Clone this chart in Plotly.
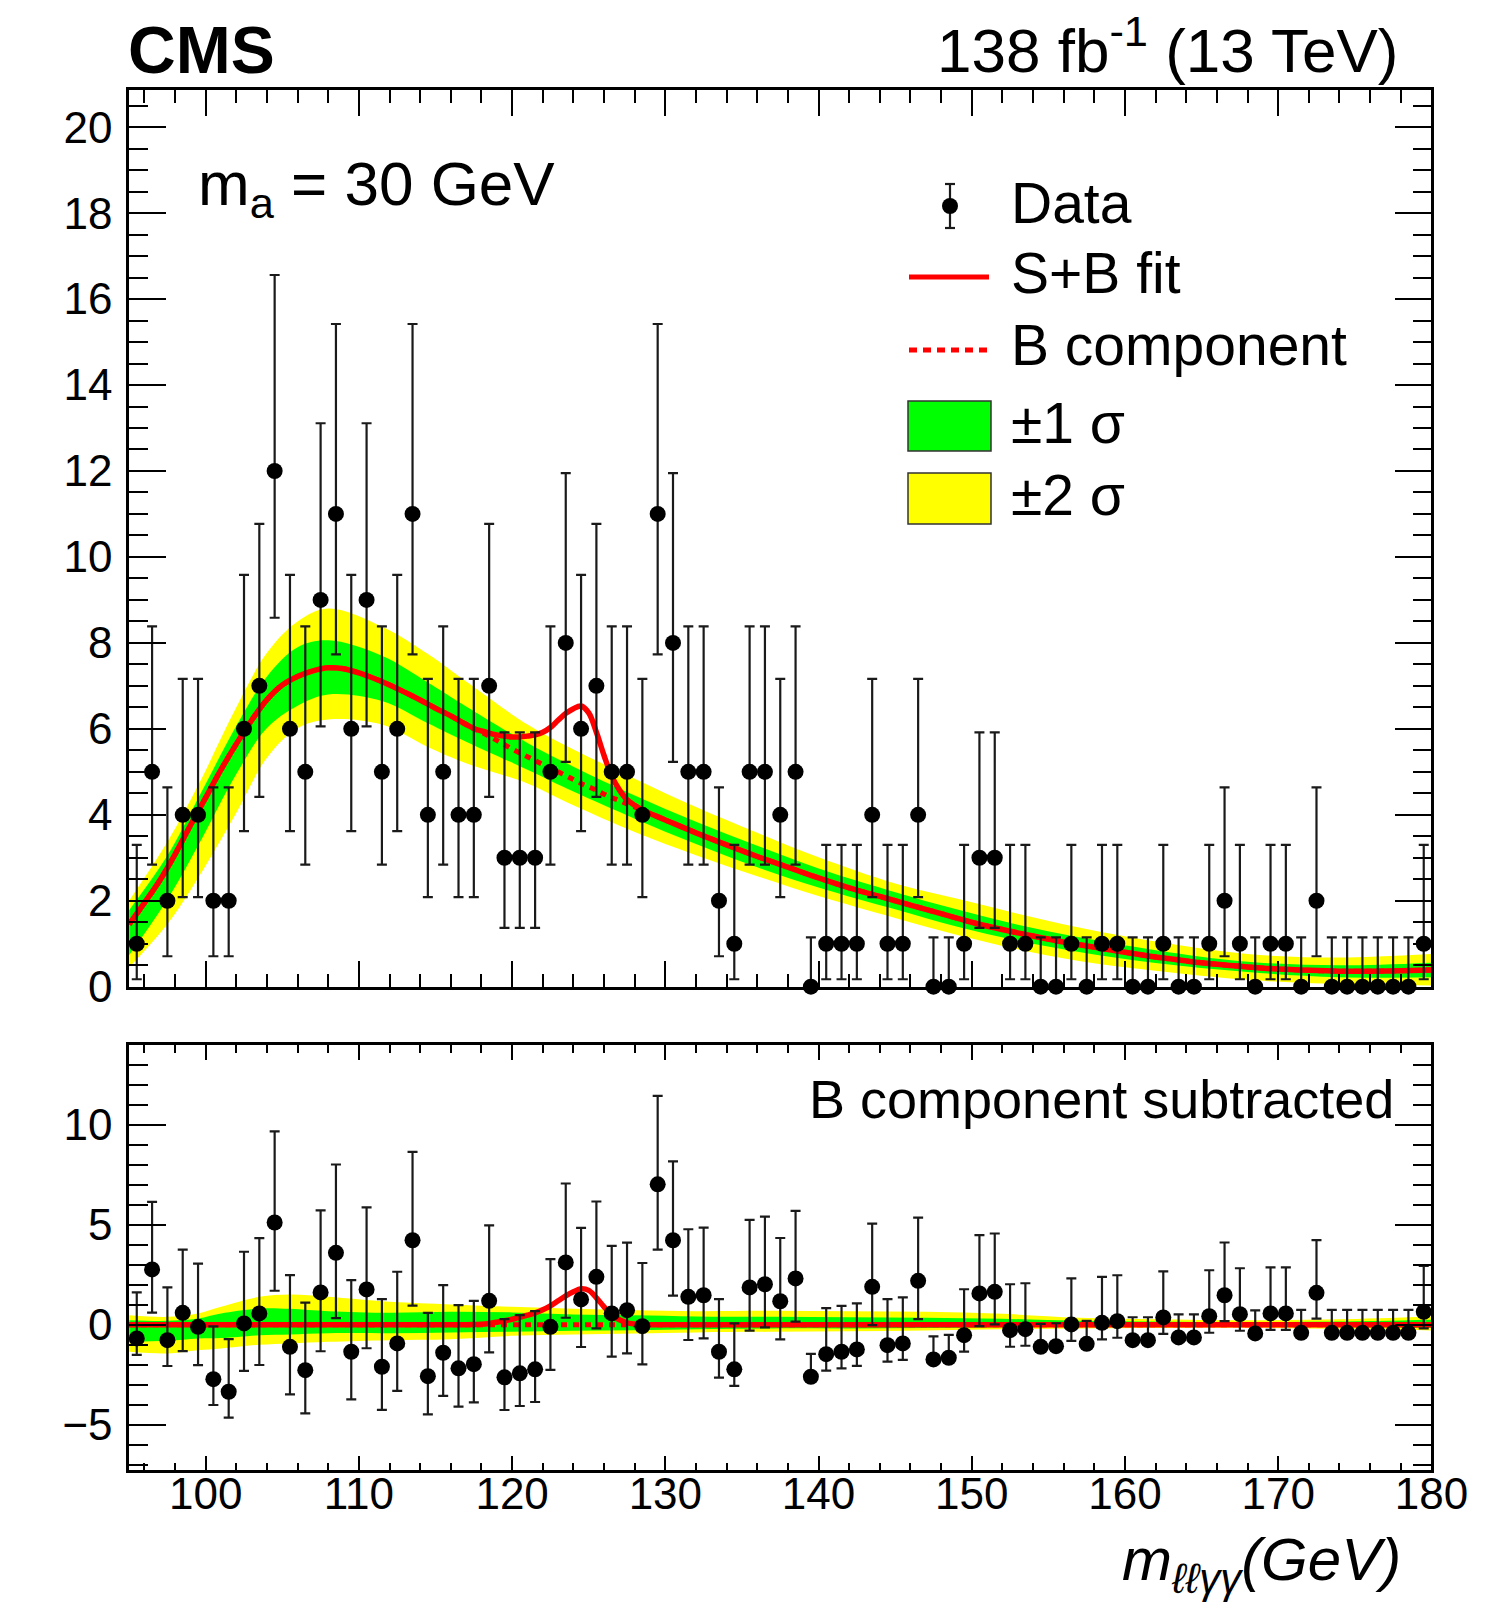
import numpy as np
import plotly.graph_objects as go

W, H = 1501, 1606
FONT = "Liberation Sans, Arial, Helvetica, sans-serif"
RED = "#FF0000"
GREEN = "#00FF00"
YELLOW = "#FFFF00"

# ---------------------------------------------------------------- data
# event counts per 1 GeV bin of m(llgg), 95-180 GeV
bin_centers = np.arange(95.5, 180.0, 1.0)
counts = [
    1, 5, 2, 4, 4, 2, 2, 6, 7, 12,          # 95.5 - 104.5
    6, 5, 9, 11, 6, 9, 5, 6, 11, 4,         # 105.5 - 114.5
    5, 4, 4, 7, 3, 3, 3, 5, 8, 6,           # 115.5 - 124.5
    7, 5, 5, 4, 11, 8, 5, 5, 2, 1,          # 125.5 - 134.5
    5, 5, 4, 5, 0, 1, 1, 1, 4, 1,           # 135.5 - 144.5
    1, 4, 0, 0, 1, 3, 3, 1, 1, 0,           # 145.5 - 154.5
    0, 1, 0, 1, 1, 0, 0, 1, 0, 0,           # 155.5 - 164.5
    1, 2, 1, 0, 1, 1, 0, 2, 0, 0,           # 165.5 - 174.5
    0, 0, 0, 0, 1,                          # 175.5 - 179.5
]

# data minus background component, per bin
residuals = [
    -0.68, 2.77, -0.77, 0.60, -0.10, -2.72, -3.35, 0.07, 0.57, 5.12,
    -1.10, -2.27, 1.62, 3.60, -1.35, 1.77, -2.10, -0.93, 4.23, -2.57,
    -1.40, -2.18, -1.97, 1.20, -2.63, -2.43, -2.23, -0.10, 3.12, 1.27,
    2.40, 0.57, 0.73, -0.07, 7.03, 4.23, 1.40, 1.48, -1.35, -2.23,
    1.87, 2.03, 1.18, 2.32, -2.60, -1.47, -1.35, -1.23, 1.90, -1.02,
    -0.93, 2.20, -1.73, -1.65, -0.52, 1.57, 1.65, -0.27, -0.22, -1.10,
    -1.07, 0.02, -0.95, 0.10, 0.18, -0.77, -0.77, 0.37, -0.63, -0.63,
    0.43, 1.48, 0.53, -0.43, 0.57, 0.57, -0.40, 1.60, -0.40, -0.40,
    -0.40, -0.40, -0.40, -0.40, 0.65,
]

# 68% Poisson interval bounds for n = 0 .. 12 observed events
poisson_lo = [0.0, 0.173, 0.708, 1.367, 2.086, 2.840, 3.620, 4.419, 5.232, 6.057, 6.891, 7.734, 8.585]
poisson_hi = [1.148, 3.300, 4.638, 5.918, 7.163, 8.382, 9.584, 10.77, 11.95, 13.11, 14.27, 15.42, 16.56]

# fitted model evaluated on a mass grid
fit_mass = [
    95, 96, 97, 98, 99, 100, 101, 102, 103, 104, 105, 106, 107, 108, 109, 110,
    111, 112, 113, 114, 115, 116, 117, 117.5, 118, 118.5, 119, 119.5, 120, 120.5,
    121, 121.5, 122, 122.5, 123, 123.5, 124, 124.5, 125, 125.5, 126, 126.5, 127,
    127.5, 128, 128.5, 129, 130, 132, 134, 136, 138, 140, 142, 144, 146, 148, 150,
    152, 154, 156, 158, 160, 162, 164, 166, 168, 170, 172, 174, 176, 178, 180,
]
bkg_fit = [
    1.45, 1.95, 2.47, 3.08, 3.75, 4.40, 5.05, 5.65, 6.20, 6.68, 7.02, 7.22, 7.35, 7.42, 7.40, 7.30,
    7.17, 7.02, 6.85, 6.67, 6.48, 6.30, 6.10, 6.00, 5.92, 5.83, 5.73, 5.63, 5.53, 5.44,
    5.35, 5.26, 5.17, 5.08, 5.00, 4.91, 4.82, 4.73, 4.65, 4.57, 4.48, 4.40, 4.33,
    4.25, 4.18, 4.10, 4.03, 3.88, 3.58, 3.30, 3.03, 2.78, 2.53, 2.30, 2.10, 1.90, 1.70, 1.50,
    1.33, 1.18, 1.04, 0.92, 0.80, 0.69, 0.60, 0.52, 0.46, 0.41, 0.38, 0.36, 0.36, 0.37, 0.39,
]
sig_fit = [
    0, 0, 0, 0, 0, 0, 0, 0, 0, 0, 0, 0, 0, 0, 0, 0,
    0, 0, 0, 0, 0, 0, 0.0, 0.01, 0.03, 0.07, 0.13, 0.20, 0.28, 0.37,
    0.48, 0.60, 0.75, 0.95, 1.20, 1.45, 1.65, 1.80, 1.72, 1.35, 0.90, 0.50, 0.25,
    0.10, 0.04, 0.01, 0, 0, 0, 0, 0, 0, 0, 0, 0, 0, 0, 0,
    0, 0, 0, 0, 0, 0, 0, 0, 0, 0, 0, 0, 0, 0, 0,
]

# uncertainty bands of the background component (upper panel)
band_mass = [95, 97.5, 99.5, 102, 104, 106, 108, 111.5, 114.5, 117, 121, 124,
             128, 132, 136, 140, 145, 149, 153, 157, 162, 168, 174, 180]
band2_hi = [2.00, 3.37, 4.68, 6.50, 7.77, 8.50, 8.80, 8.38, 7.74, 7.10, 6.10, 5.52,
            4.84, 4.18, 3.58, 3.01, 2.40, 2.05, 1.70, 1.38, 1.05, 0.76, 0.68, 0.76]
band1_hi = [1.78, 3.05, 4.38, 6.07, 7.22, 7.90, 8.06, 7.70, 7.08, 6.52, 5.67, 5.12,
            4.45, 3.84, 3.28, 2.75, 2.20, 1.80, 1.44, 1.15, 0.85, 0.58, 0.50, 0.56]
band1_lo = [0.73, 2.03, 3.28, 4.95, 6.02, 6.54, 6.80, 6.65, 6.13, 5.70, 5.05, 4.54,
            3.91, 3.32, 2.78, 2.31, 1.80, 1.40, 1.07, 0.81, 0.55, 0.34, 0.22, 0.22]
band2_lo = [0.45, 1.46, 2.53, 4.05, 5.33, 6.02, 6.22, 6.10, 5.58, 5.20, 4.73, 4.22,
            3.60, 3.06, 2.57, 2.11, 1.60, 1.21, 0.87, 0.60, 0.37, 0.16, 0.06, 0.03]

# uncertainty bands after background subtraction (lower panel)
sub_band_mass = [95, 97.5, 99.5, 101, 103.5, 105.5, 108, 112, 116, 120, 124,
                 128, 132, 137, 142, 147, 152, 157, 162, 168, 174, 180]
sub_band2_hi = [0.48, 0.40, 0.57, 0.90, 1.40, 1.52, 1.40, 1.15, 1.02, 0.90, 0.80,
                0.73, 0.68, 0.70, 0.68, 0.65, 0.55, 0.35, 0.28, 0.23, 0.28, 0.42]
sub_band1_hi = [0.23, 0.20, 0.32, 0.57, 0.82, 0.80, 0.68, 0.60, 0.65, 0.62, 0.52,
                0.48, 0.42, 0.40, 0.38, 0.35, 0.30, 0.20, 0.16, 0.13, 0.16, 0.25]
sub_band1_lo = [-0.85, -0.80, -0.68, -0.66, -0.52, -0.48, -0.42, -0.42, -0.38, -0.35, -0.30,
                -0.27, -0.22, -0.18, -0.18, -0.16, -0.12, -0.10, -0.09, -0.08, -0.10, -0.15]
sub_band2_lo = [-1.35, -1.43, -1.27, -1.18, -1.00, -0.93, -0.85, -0.77, -0.72, -0.55, -0.48,
                -0.43, -0.38, -0.35, -0.32, -0.28, -0.22, -0.18, -0.16, -0.15, -0.20, -0.28]

# ---------------------------------------------------------------- derived
counts_arr = np.array(counts)
err_up = np.array([poisson_hi[n] - n for n in counts])
err_dn = np.array([n - poisson_lo[n] for n in counts])
bkg_arr = np.array(bkg_fit)
sig_arr = np.array(sig_fit)
splusb = bkg_arr + sig_arr
bkg_sub = bkg_arr - bkg_arr

fig = go.Figure()


def add_bands(xs, lo2, hi2, lo1, hi1, xa, ya):
    for lo, hi, col in ((lo2, hi2, YELLOW), (lo1, hi1, GREEN)):
        fig.add_trace(go.Scatter(x=xs, y=lo, mode="lines", line=dict(width=0, shape="spline"),
                                 xaxis=xa, yaxis=ya, hoverinfo="skip", showlegend=False))
        fig.add_trace(go.Scatter(x=xs, y=hi, mode="lines", line=dict(width=0, shape="spline"),
                                 fill="tonexty", fillcolor=col, xaxis=xa, yaxis=ya,
                                 hoverinfo="skip", showlegend=False))


def add_points(ys, xa, ya):
    fig.add_trace(go.Scatter(
        x=bin_centers, y=ys, mode="markers", xaxis=xa, yaxis=ya, showlegend=False,
        marker=dict(size=16, color="black"), cliponaxis=False,
        error_y=dict(type="data", symmetric=False, array=err_up, arrayminus=err_dn,
                     color="#1a1a1a", thickness=2.2, width=5)))


# upper panel: fit with data
add_bands(band_mass, band2_lo, band2_hi, band1_lo, band1_hi, "x", "y")
fig.add_trace(go.Scatter(x=fit_mass, y=bkg_arr, mode="lines", xaxis="x", yaxis="y", showlegend=False,
                         line=dict(color=RED, width=5, dash="6px,6px", shape="spline")))
fig.add_trace(go.Scatter(x=fit_mass, y=splusb, mode="lines", xaxis="x", yaxis="y", showlegend=False,
                         line=dict(color=RED, width=5.5, shape="spline")))
add_points(counts_arr, "x", "y")

# lower panel: background-subtracted
add_bands(sub_band_mass, sub_band2_lo, sub_band2_hi, sub_band1_lo, sub_band1_hi, "x2", "y2")
fig.add_trace(go.Scatter(x=fit_mass, y=bkg_sub, mode="lines", xaxis="x2", yaxis="y2", showlegend=False,
                         line=dict(color=RED, width=5, dash="6px,6px")))
fig.add_trace(go.Scatter(x=fit_mass, y=sig_arr, mode="lines", xaxis="x2", yaxis="y2", showlegend=False,
                         line=dict(color=RED, width=5.5, shape="spline")))
add_points(np.array(residuals), "x2", "y2")

# ---------------------------------------------------------------- axes
X_DOM = [129.1 / W, 1431.4 / W]
UP_DOM = [1 - 986.7 / H, 1 - 90.2 / H]
LO_DOM = [1 - 1470.3 / H, 1 - 1045.0 / H]

common = dict(showline=True, linecolor="black", linewidth=2.5, mirror="ticks", automargin=False,
              ticks="inside", tickcolor="black", tickwidth=2, showgrid=False, zeroline=False,
              tickfont=dict(family=FONT, size=44, color="black"))

fig.update_layout(
    width=W, height=H, autosize=False, margin=dict(l=0, r=0, t=0, b=0, pad=0),
    paper_bgcolor="white", plot_bgcolor="white", showlegend=False,
    xaxis=dict(domain=X_DOM, range=[95, 180], anchor="y", dtick=10, tick0=0, ticklen=26,
               showticklabels=False,
               minor=dict(ticks="inside", dtick=2, tick0=0, ticklen=13, tickwidth=2, tickcolor="black"),
               **common),
    yaxis=dict(domain=UP_DOM, range=[0, 20.86], anchor="x", dtick=2, tick0=0, ticklen=37,
               ticklabelstandoff=5,
               minor=dict(ticks="inside", dtick=0.5, tick0=0, ticklen=19, tickwidth=2, tickcolor="black"),
               **common),
    xaxis2=dict(domain=X_DOM, range=[95, 180], anchor="y2", dtick=10, tick0=0, ticklen=15,
                ticklabelstandoff=-17,
                minor=dict(ticks="inside", dtick=2, tick0=0, ticklen=8, tickwidth=2, tickcolor="black"),
                **common),
    yaxis2=dict(domain=LO_DOM, range=[-7.28, 14.0], anchor="x2", dtick=5, tick0=0, ticklen=37,
                ticklabelstandoff=5,
                minor=dict(ticks="inside", dtick=1, tick0=0, ticklen=19, tickwidth=2, tickcolor="black"),
                **common),
)


# ---------------------------------------------------------------- text and legend
def px(x):
    return x / W


def py(y):
    return 1 - y / H


def label(text, x, y, size, xanchor="left", yanchor="middle"):
    fig.add_annotation(text=text, x=px(x), y=py(y), xref="paper", yref="paper", showarrow=False,
                       xanchor=xanchor, yanchor=yanchor,
                       font=dict(family=FONT, size=size, color="black"))


label("<b>CMS</b>", 126, 50, 66)
label("138 fb<sup>-1</sup> (13 TeV)", 1400, 46, 62, xanchor="right")
label("m<sub>a</sub> = 30 GeV", 196, 188, 62)
label("B component subtracted", 1396, 1099, 54, xanchor="right")
label("<i>m</i><sub><i>ℓℓγγ</i></sub><i>(GeV)</i>", 1403, 1604, 60, xanchor="right", yanchor="bottom")

LEG_X = 1009
label("Data", LEG_X, 203, 57)
label("S+B fit", LEG_X, 273, 57)
label("B component", LEG_X, 345, 57)
label("±1 σ", LEG_X, 423, 57)
label("±2 σ", LEG_X, 495, 57)

shapes = []
# Data symbol
shapes.append(dict(type="line", x0=px(950), x1=px(950), y0=py(184), y1=py(228),
                   line=dict(color="#1a1a1a", width=2.2)))
for yy in (184, 228):
    shapes.append(dict(type="line", x0=px(945), x1=px(955), y0=py(yy), y1=py(yy),
                       line=dict(color="#1a1a1a", width=2.2)))
shapes.append(dict(type="circle", x0=px(942), x1=px(958), y0=py(214), y1=py(198),
                   fillcolor="black", line=dict(color="black", width=0)))
# fit lines
shapes.append(dict(type="line", x0=px(909), x1=px(989), y0=py(277), y1=py(277),
                   line=dict(color=RED, width=5)))
shapes.append(dict(type="line", x0=px(909), x1=px(989), y0=py(350), y1=py(350),
                   line=dict(color=RED, width=5, dash="8px,6px")))
# band boxes
shapes.append(dict(type="rect", x0=px(908), x1=px(991), y0=py(451), y1=py(401),
                   fillcolor=GREEN, line=dict(color="#333333", width=1.5)))
shapes.append(dict(type="rect", x0=px(908), x1=px(991), y0=py(524), y1=py(473),
                   fillcolor=YELLOW, line=dict(color="#333333", width=1.5)))
for s in shapes:
    s.update(xref="paper", yref="paper", layer="above")
fig.update_layout(shapes=shapes)

fig.write_html("out.html")
